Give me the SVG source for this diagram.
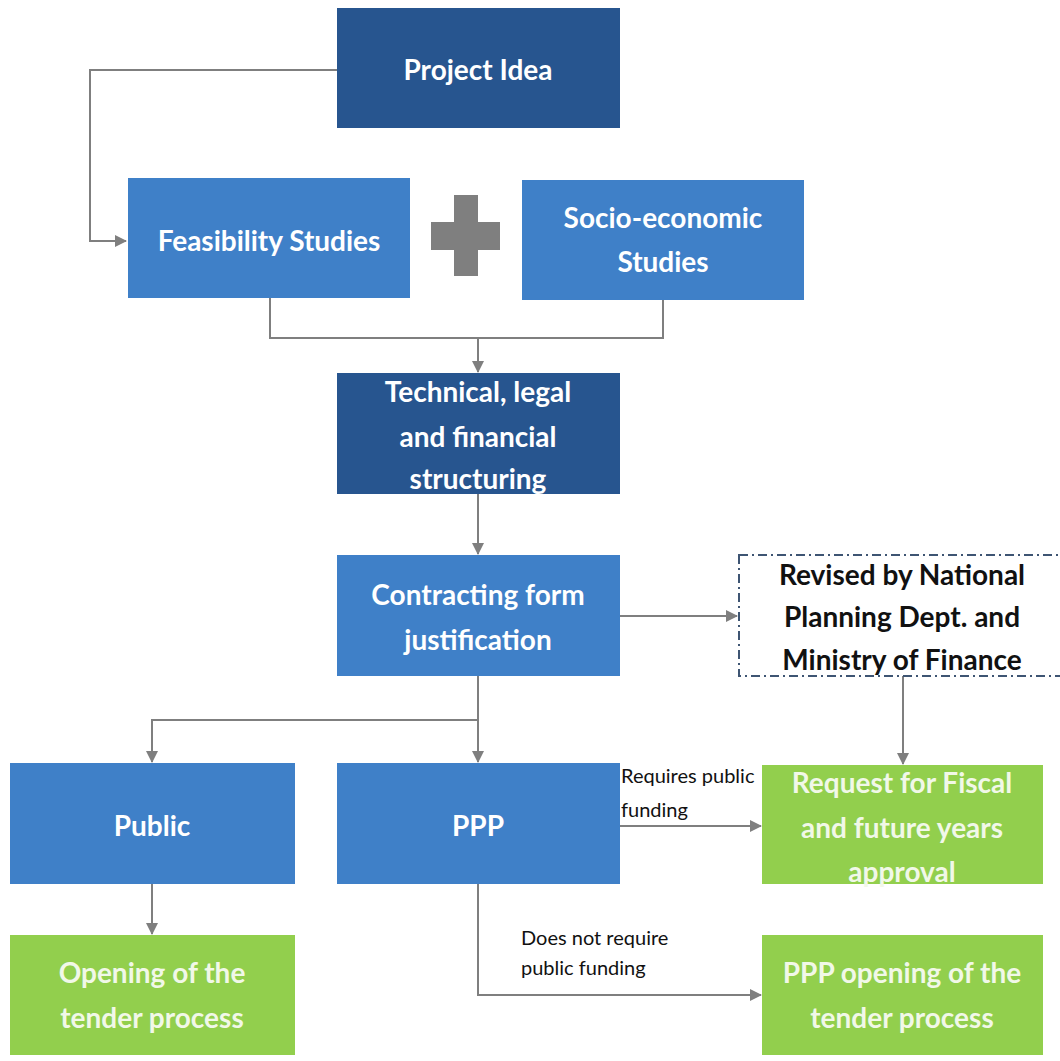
<svg xmlns="http://www.w3.org/2000/svg" width="1060" height="1061" viewBox="0 0 1060 1061">
<defs>
<marker id="arr" markerWidth="12" markerHeight="12" refX="11" refY="6" orient="auto" markerUnits="userSpaceOnUse">
<path d="M0,0 L12,6 L0,12 Z" fill="#7F7F7F"/>
</marker>
<style>
.dark{fill:#27558F}
.mid{fill:#3F80C8}
.green{fill:#92CF4D}
.t{font-family:Lato,"Open Sans","Liberation Sans",sans-serif;font-weight:bold;font-size:28px;fill:#FFFFFF;text-anchor:middle}
.tg{font-family:Lato,"Open Sans","Liberation Sans",sans-serif;font-weight:bold;font-size:28px;fill:#F1F8E8;text-anchor:middle}
.tb{font-family:Lato,"Open Sans","Liberation Sans",sans-serif;font-weight:bold;font-size:28px;fill:#111111;text-anchor:middle}
.lbl{font-family:Lato,"Open Sans","Liberation Sans",sans-serif;font-size:20px;fill:#111111}
.c{fill:none;stroke:#7F7F7F;stroke-width:2}
</style>
</defs>
<rect width="1060" height="1061" fill="#FFFFFF"/>

<g id="connectors">
<path class="c" d="M337,70 H90 V241 H126" marker-end="url(#arr)"/>
<path class="c" d="M270,298 V338 H663 V300"/>
<path class="c" d="M478,338 V372" marker-end="url(#arr)"/>
<path class="c" d="M478,494 V554" marker-end="url(#arr)"/>
<path class="c" d="M620,616 H737" marker-end="url(#arr)"/>
<path class="c" d="M903,676 V764" marker-end="url(#arr)"/>
<path class="c" d="M478,676 V720 H152 V762" marker-end="url(#arr)"/>
<path class="c" d="M478,720 V762" marker-end="url(#arr)"/>
<path class="c" d="M152,884 V934" marker-end="url(#arr)"/>
<path class="c" d="M620,826 H761" marker-end="url(#arr)"/>
<path class="c" d="M478,884 V995 H761" marker-end="url(#arr)"/>
<text class="lbl" x="621" y="783">Requires public</text>
<text class="lbl" x="621" y="817">funding</text>
<text class="lbl" x="521" y="945">Does not require</text>
<text class="lbl" x="521" y="975">public funding</text>
</g>

<g id="project-idea">
<rect class="dark" x="337" y="8" width="283" height="120"/>
<text class="t" x="478" y="80">Project Idea</text>
</g>

<g id="feasibility-studies">
<rect class="mid" x="128" y="178" width="282" height="120"/>
<text class="t" x="269" y="251">Feasibility Studies</text>
</g>

<g id="plus">
<rect x="454" y="195" width="24" height="81" fill="#7F7F7F"/>
<rect x="431" y="222" width="69" height="28" fill="#7F7F7F"/>
</g>

<g id="socio-economic-studies">
<rect class="mid" x="522" y="180" width="282" height="120"/>
<text class="t" x="663" y="228">Socio-economic</text>
<text class="t" x="663" y="272">Studies</text>
</g>

<g id="structuring">
<rect class="dark" x="337" y="373" width="283" height="121"/>
<text class="t" x="478" y="402">Technical, legal</text>
<text class="t" x="478" y="447">and financial</text>
<text class="t" x="478" y="489">structuring</text>
</g>

<g id="contracting">
<rect class="mid" x="337" y="555" width="283" height="121"/>
<text class="t" x="478" y="605">Contracting form</text>
<text class="t" x="478" y="650">justification</text>
</g>

<g id="revised">
<rect x="739" y="555" width="330" height="121" fill="#FFFFFF" stroke="#3E5573" stroke-width="2" stroke-dasharray="9,4,2,4"/>
<text class="tb" x="902" y="585">Revised by National</text>
<text class="tb" x="902" y="627">Planning Dept. and</text>
<text class="tb" x="902" y="670">Ministry of Finance</text>
</g>

<g id="public">
<rect class="mid" x="10" y="763" width="285" height="121"/>
<text class="t" x="152" y="836">Public</text>
</g>

<g id="ppp">
<rect class="mid" x="337" y="763" width="283" height="121"/>
<text class="t" x="478" y="836">PPP</text>
</g>

<g id="request">
<rect class="green" x="762" y="765" width="281" height="119"/>
<text class="tg" x="902" y="793">Request for Fiscal</text>
<text class="tg" x="902" y="838">and future years</text>
<text class="tg" x="902" y="882">approval</text>
</g>

<g id="opening">
<rect class="green" x="10" y="935" width="285" height="120"/>
<text class="tg" x="152" y="983">Opening of the</text>
<text class="tg" x="152" y="1028">tender process</text>
</g>

<g id="ppp-opening">
<rect class="green" x="762" y="935" width="281" height="120"/>
<text class="tg" x="902" y="983">PPP opening of the</text>
<text class="tg" x="902" y="1028">tender process</text>
</g>
</svg>
